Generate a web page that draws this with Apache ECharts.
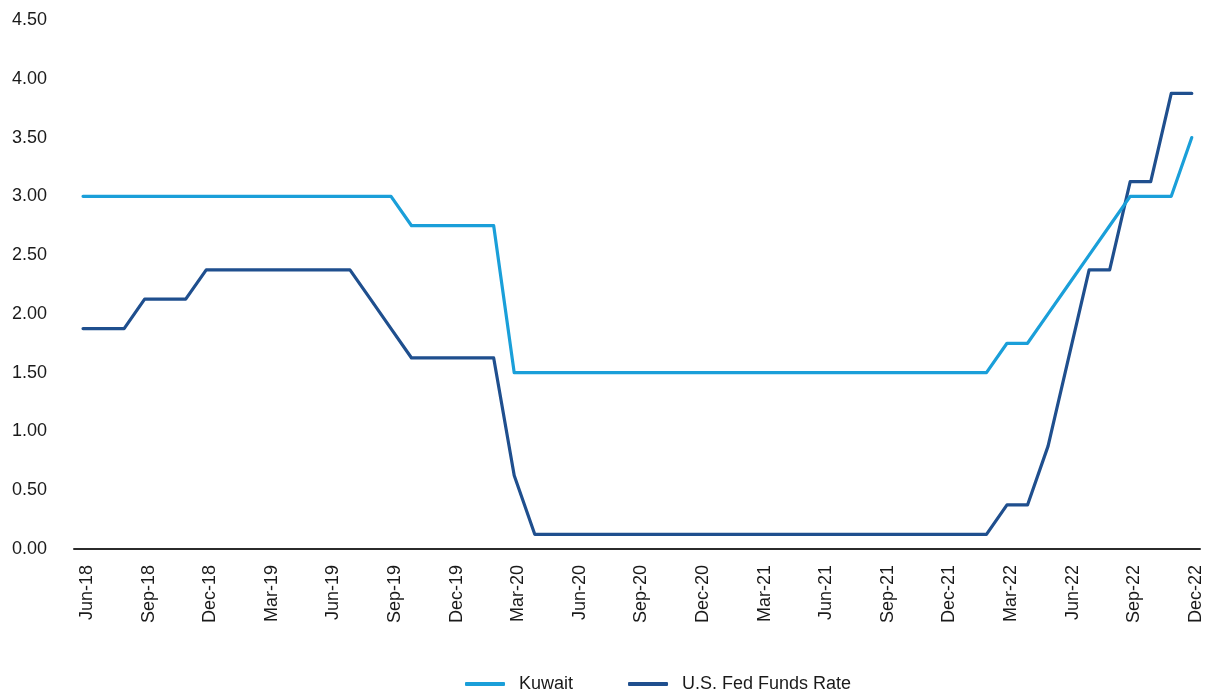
<!DOCTYPE html>
<html>
<head>
<meta charset="utf-8">
<script src="https://cdn.jsdelivr.net/npm/echarts@6/dist/echarts.min.js"></script>
<style>
  html, body { margin: 0; padding: 0; background: #ffffff; }
  #chart { width: 1206px; height: 691px; }
</style>
</head>
<body>
<div id="chart"></div>
<script>
// Monthly policy rates, Jun-18 .. Dec-22
const months = [
  'Jun-18','Jul-18','Aug-18','Sep-18','Oct-18','Nov-18','Dec-18',
  'Jan-19','Feb-19','Mar-19','Apr-19','May-19','Jun-19','Jul-19','Aug-19','Sep-19','Oct-19','Nov-19','Dec-19',
  'Jan-20','Feb-20','Mar-20','Apr-20','May-20','Jun-20','Jul-20','Aug-20','Sep-20','Oct-20','Nov-20','Dec-20',
  'Jan-21','Feb-21','Mar-21','Apr-21','May-21','Jun-21','Jul-21','Aug-21','Sep-21','Oct-21','Nov-21','Dec-21',
  'Jan-22','Feb-22','Mar-22','Apr-22','May-22','Jun-22','Jul-22','Aug-22','Sep-22','Oct-22','Nov-22','Dec-22'
];

const kuwait = [
  3.00, 3.00, 3.00, 3.00, 3.00, 3.00, 3.00,
  3.00, 3.00, 3.00, 3.00, 3.00, 3.00, 3.00, 3.00, 3.00, 2.75, 2.75, 2.75,
  2.75, 2.75, 1.50, 1.50, 1.50, 1.50, 1.50, 1.50, 1.50, 1.50, 1.50, 1.50,
  1.50, 1.50, 1.50, 1.50, 1.50, 1.50, 1.50, 1.50, 1.50, 1.50, 1.50, 1.50,
  1.50, 1.50, 1.75, 1.75, 2.00, 2.25, 2.50, 2.75, 3.00, 3.00, 3.00, 3.50
];

const fedFunds = [
  1.875, 1.875, 1.875, 2.125, 2.125, 2.125, 2.375,
  2.375, 2.375, 2.375, 2.375, 2.375, 2.375, 2.375, 2.125, 1.875, 1.625, 1.625, 1.625,
  1.625, 1.625, 0.625, 0.125, 0.125, 0.125, 0.125, 0.125, 0.125, 0.125, 0.125, 0.125,
  0.125, 0.125, 0.125, 0.125, 0.125, 0.125, 0.125, 0.125, 0.125, 0.125, 0.125, 0.125,
  0.125, 0.125, 0.375, 0.375, 0.875, 1.625, 2.375, 2.375, 3.125, 3.125, 3.875, 3.875
];

// Every third month gets a label, starting at Jun-18
const labelStep = 3;
const labelIndices = months.map((m, i) => i).filter(i => i % labelStep === 0);

const FONT = '"Liberation Sans", Arial, Helvetica, sans-serif';
const TEXT_COLOR = '#1a1a1a';

const chart = echarts.init(document.getElementById('chart'), null, { renderer: 'canvas' });

chart.setOption({
  backgroundColor: '#ffffff',
  animation: false,
  textStyle: { fontFamily: FONT },
  grid: {
    left: 74,
    right: 6,
    top: 20,
    bottom: 142,
    containLabel: false,
    outerBoundsMode: 'none'
  },
  legend: {
    left: 465,
    top: 675,
    padding: 0,
    itemWidth: 40,
    itemHeight: 4,
    itemGap: 55,
    icon: 'roundRect',
    textStyle: {
      fontFamily: FONT,
      fontSize: 18,
      color: TEXT_COLOR,
      padding: [0, 0, 0, 9]
    },
    data: ['Kuwait', 'U.S. Fed Funds Rate']
  },
  xAxis: {
    type: 'value',
    min: -0.44,
    max: 54.4,
    splitLine: { show: false },
    axisTick: { show: false },
    axisLine: { show: true, onZero: false, lineStyle: { color: '#2b2b2b', width: 2 } },
    axisLabel: {
      customValues: labelIndices,
      rotate: 90,
      margin: 16,
      fontFamily: FONT,
      fontSize: 18,
      color: TEXT_COLOR,
      formatter: v => '{m|' + (months[Math.round(v)] || '') + '}',
      rich: {
        m: {
          fontFamily: FONT,
          fontSize: 18,
          color: TEXT_COLOR,
          padding: [8, 0, 0, 0]
        }
      }
    }
  },
  yAxis: {
    type: 'value',
    min: 0,
    max: 4.5,
    interval: 0.5,
    splitLine: { show: false },
    axisLine: { show: false },
    axisTick: { show: false },
    axisLabel: {
      margin: 27,
      fontFamily: FONT,
      fontSize: 18,
      color: TEXT_COLOR,
      formatter: v => v.toFixed(2)
    }
  },
  series: [
    {
      name: 'Kuwait',
      type: 'line',
      data: kuwait.map((v, i) => [i, v]),
      showSymbol: false,
      symbol: 'none',
      itemStyle: { color: '#1a9fd9' },
      lineStyle: { color: '#1a9fd9', width: 3.2, cap: 'round', join: 'round' },
      z: 3
    },
    {
      name: 'U.S. Fed Funds Rate',
      type: 'line',
      data: fedFunds.map((v, i) => [i, v]),
      showSymbol: false,
      symbol: 'none',
      itemStyle: { color: '#1f4f8e' },
      lineStyle: { color: '#1f4f8e', width: 3.2, cap: 'round', join: 'round' },
      z: 2
    }
  ]
});
</script>
</body>
</html>
